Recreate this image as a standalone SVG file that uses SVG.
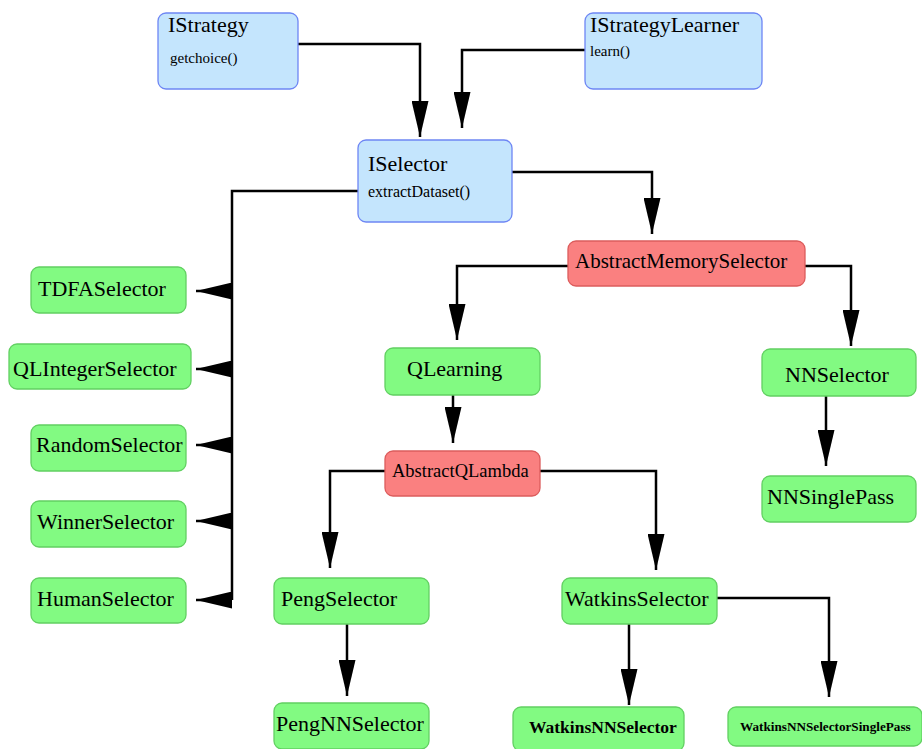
<svg xmlns="http://www.w3.org/2000/svg" width="922" height="749" viewBox="0 0 922 749">
<defs>
<style>
.blue{fill:#c4e5fd;stroke:#6e86f4;stroke-width:1.3}
.green{fill:#82fa82;stroke:#62d062;stroke-width:1.3}
.red{fill:#fa8080;stroke:#dc5c5c;stroke-width:1.3}
text{font-family:"Liberation Serif","Times New Roman",serif;fill:#000}
.t{font-size:22px}
.m{font-size:16px}
.b{font-weight:bold}
.c{fill:none;stroke:#000;stroke-width:2.5}
</style>
<marker id="ah" viewBox="0 0 36 17" refX="36" refY="8.5" markerWidth="36" markerHeight="17" markerUnits="userSpaceOnUse" orient="auto">
<path d="M0,0 L36,8.5 L0,17 Z" fill="#000"/>
</marker>
</defs>
<rect width="922" height="749" fill="#fff"/>
<g id="connectors">
<path class="c" d="M298,44 H420 V137" marker-end="url(#ah)"/>
<path class="c" d="M585,50 H462 V128" marker-end="url(#ah)"/>
<path class="c" d="M512,172 H652 V234" marker-end="url(#ah)"/>
<path class="c" d="M358,191 H232 V600"/>
<path class="c" d="M232,291 H196" marker-end="url(#ah)"/>
<path class="c" d="M232,369 H196" marker-end="url(#ah)"/>
<path class="c" d="M232,445 H196" marker-end="url(#ah)"/>
<path class="c" d="M232,521 H196" marker-end="url(#ah)"/>
<path class="c" d="M232,600 H196" marker-end="url(#ah)"/>
<path class="c" d="M568,266 H457 V340" marker-end="url(#ah)"/>
<path class="c" d="M805,266 H851 V346" marker-end="url(#ah)"/>
<path class="c" d="M453,395 V443" marker-end="url(#ah)"/>
<path class="c" d="M385,471 H330 V568" marker-end="url(#ah)"/>
<path class="c" d="M540,471 H656 V570" marker-end="url(#ah)"/>
<path class="c" d="M826,396 V466" marker-end="url(#ah)"/>
<path class="c" d="M347,624 V696" marker-end="url(#ah)"/>
<path class="c" d="M629,624 V705" marker-end="url(#ah)"/>
<path class="c" d="M717,598 H829 V697" marker-end="url(#ah)"/>
</g>
<g id="IStrategy"><rect class="blue" x="158" y="13" width="140" height="76" rx="8"/><text class="t" x="168" y="32">IStrategy</text><text x="170" y="63" font-size="15">getchoice()</text></g>
<g id="IStrategyLearner"><rect class="blue" x="585" y="13" width="177" height="76" rx="8"/><text class="t" x="590" y="32">IStrategyLearner</text><text x="590" y="56" font-size="15">learn()</text></g>
<g id="ISelector"><rect class="blue" x="358" y="140" width="154" height="82" rx="8"/><text class="t" x="368" y="171">ISelector</text><text class="m" x="368" y="197">extractDataset()</text></g>
<g id="AbstractMemorySelector"><rect class="red" x="568" y="241" width="237" height="45" rx="8"/><text x="575" y="268" font-size="21">AbstractMemorySelector</text></g>
<g id="TDFASelector"><rect class="green" x="31" y="267" width="155" height="46" rx="8"/><text class="t" x="38" y="296">TDFASelector</text></g>
<g id="QLIntegerSelector"><rect class="green" x="9" y="344" width="182" height="45" rx="8"/><text class="t" x="13" y="376">QLIntegerSelector</text></g>
<g id="RandomSelector"><rect class="green" x="31" y="425" width="155" height="46" rx="8"/><text class="t" x="36" y="452">RandomSelector</text></g>
<g id="WinnerSelector"><rect class="green" x="31" y="501" width="155" height="46" rx="8"/><text class="t" x="37" y="529">WinnerSelector</text></g>
<g id="HumanSelector"><rect class="green" x="31" y="578" width="155" height="45" rx="8"/><text class="t" x="37" y="606">HumanSelector</text></g>
<g id="QLearning"><rect class="green" x="385" y="348" width="155" height="47" rx="8"/><text class="t" x="407" y="376">QLearning</text></g>
<g id="NNSelector"><rect class="green" x="762" y="349" width="154" height="47" rx="8"/><text class="t" x="785" y="382">NNSelector</text></g>
<g id="AbstractQLambda"><rect class="red" x="385" y="451" width="155" height="45" rx="8"/><text x="392" y="477" font-size="18.5">AbstractQLambda</text></g>
<g id="NNSinglePass"><rect class="green" x="762" y="476" width="154" height="46" rx="8"/><text class="t" x="767" y="504">NNSinglePass</text></g>
<g id="PengSelector"><rect class="green" x="274" y="578" width="155" height="46" rx="8"/><text class="t" x="281" y="606">PengSelector</text></g>
<g id="WatkinsSelector"><rect class="green" x="562" y="578" width="155" height="46" rx="8"/><text class="t" x="565" y="606">WatkinsSelector</text></g>
<g id="PengNNSelector"><rect class="green" x="274" y="703" width="155" height="46" rx="8"/><text class="t" x="276" y="731">PengNNSelector</text></g>
<g id="WatkinsNNSelector"><rect class="green" x="513" y="707" width="171" height="44" rx="8"/><text class="b" x="529" y="733" font-size="17.5">WatkinsNNSelector</text></g>
<g id="WatkinsNNSelectorSinglePass"><rect class="green" x="728" y="707" width="194" height="39" rx="8"/><text class="b" x="740" y="731" font-size="13.2">WatkinsNNSelectorSinglePass</text></g>
</svg>
